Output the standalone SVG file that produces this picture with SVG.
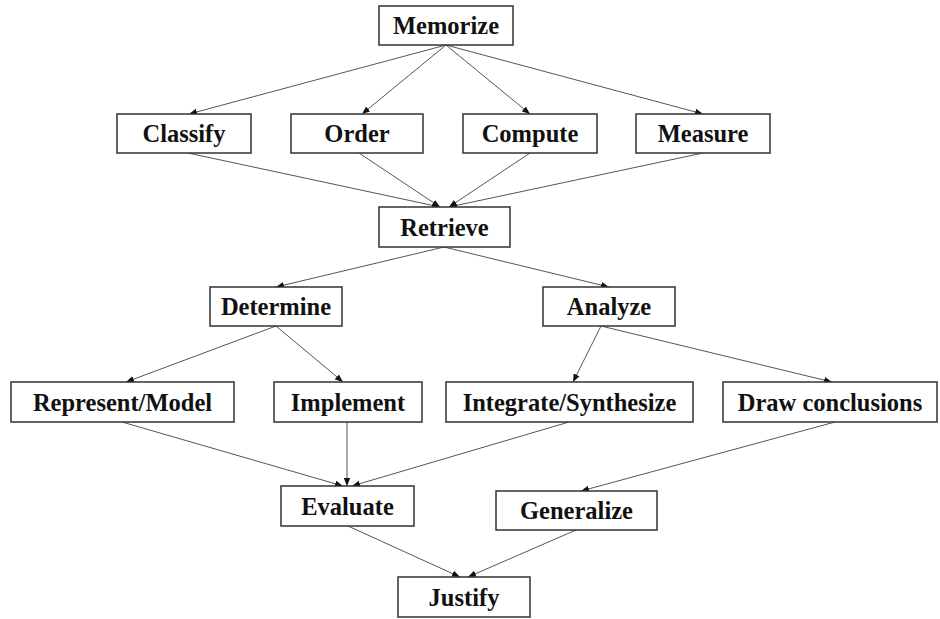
<svg xmlns="http://www.w3.org/2000/svg" width="940" height="619" viewBox="0 0 940 619">
<style>
.box{fill:#fff;stroke:#333;stroke-width:1.5}
.lbl{font-family:"Liberation Serif","Times New Roman",serif;font-weight:bold;font-size:24.5px;fill:#111;text-anchor:middle}
.edge{stroke:#555;stroke-width:1;fill:none;marker-end:url(#ah)}
</style>
<defs>
<marker id="ah" viewBox="0 0 10 10" refX="10" refY="5" markerWidth="8" markerHeight="8" markerUnits="userSpaceOnUse" orient="auto">
<path d="M0,1 L10,5 L0,9 z" fill="#111"/>
</marker>
</defs>
<rect width="940" height="619" fill="#fff"/>
<g id="connectors">
<line class="edge" x1="446" y1="45" x2="189" y2="114"/>
<line class="edge" x1="446" y1="45" x2="362" y2="114"/>
<line class="edge" x1="446" y1="45" x2="530" y2="114"/>
<line class="edge" x1="446" y1="45" x2="703" y2="114"/>
<line class="edge" x1="188" y1="153" x2="440" y2="207"/>
<line class="edge" x1="359" y1="153" x2="440" y2="207"/>
<line class="edge" x1="530" y1="153" x2="449" y2="207"/>
<line class="edge" x1="703" y1="153" x2="449" y2="207"/>
<line class="edge" x1="444" y1="247" x2="276" y2="287"/>
<line class="edge" x1="444" y1="247" x2="609" y2="287"/>
<line class="edge" x1="276" y1="326" x2="126" y2="382"/>
<line class="edge" x1="276" y1="326" x2="343" y2="382"/>
<line class="edge" x1="601" y1="326" x2="573" y2="382"/>
<line class="edge" x1="601" y1="326" x2="832" y2="382"/>
<line class="edge" x1="122" y1="422" x2="343" y2="486"/>
<line class="edge" x1="347" y1="422" x2="347" y2="486"/>
<line class="edge" x1="569" y1="422" x2="352" y2="486"/>
<line class="edge" x1="835" y1="422" x2="581" y2="491"/>
<line class="edge" x1="348" y1="526" x2="460" y2="577"/>
<line class="edge" x1="576" y1="530" x2="468" y2="577"/>
</g>
<g id="memorize"><rect class="box" x="379" y="6" width="134" height="39"/><text class="lbl" x="446" y="34">Memorize</text></g>
<g id="classify"><rect class="box" x="117" y="114" width="134" height="39"/><text class="lbl" x="184" y="142">Classify</text></g>
<g id="order"><rect class="box" x="291" y="114" width="132" height="39"/><text class="lbl" x="357" y="142">Order</text></g>
<g id="compute"><rect class="box" x="463" y="114" width="134" height="39"/><text class="lbl" x="530" y="142">Compute</text></g>
<g id="measure"><rect class="box" x="636" y="114" width="134" height="39"/><text class="lbl" x="703" y="142">Measure</text></g>
<g id="retrieve"><rect class="box" x="379" y="207" width="131" height="40"/><text class="lbl" x="444.5" y="235.5">Retrieve</text></g>
<g id="determine"><rect class="box" x="210" y="287" width="132" height="39"/><text class="lbl" x="276" y="315">Determine</text></g>
<g id="analyze"><rect class="box" x="543" y="287" width="132" height="39"/><text class="lbl" x="609" y="315">Analyze</text></g>
<g id="represent"><rect class="box" x="11" y="382" width="223" height="40"/><text class="lbl" x="122.5" y="410.5">Represent/Model</text></g>
<g id="implement"><rect class="box" x="274" y="382" width="148" height="40"/><text class="lbl" x="348" y="410.5">Implement</text></g>
<g id="integrate"><rect class="box" x="446" y="382" width="247" height="40"/><text class="lbl" x="569.5" y="410.5">Integrate/Synthesize</text></g>
<g id="draw"><rect class="box" x="723" y="382" width="214" height="40"/><text class="lbl" x="830" y="410.5">Draw conclusions</text></g>
<g id="evaluate"><rect class="box" x="281" y="486" width="133" height="40"/><text class="lbl" x="347.5" y="514.5">Evaluate</text></g>
<g id="generalize"><rect class="box" x="496" y="491" width="161" height="39"/><text class="lbl" x="576.5" y="519">Generalize</text></g>
<g id="justify"><rect class="box" x="398" y="577" width="132" height="40"/><text class="lbl" x="464" y="605.5">Justify</text></g>
</svg>
